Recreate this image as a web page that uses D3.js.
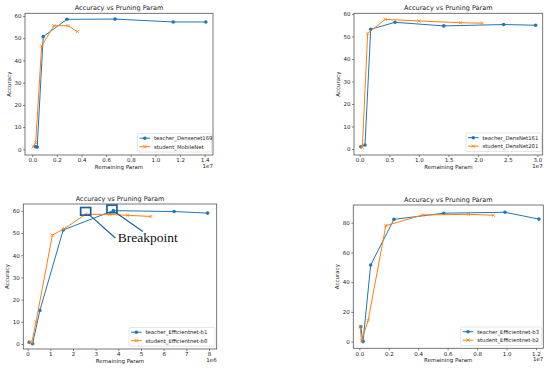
<!DOCTYPE html>
<html>
<head>
<meta charset="utf-8">
<script src="https://cdn.jsdelivr.net/npm/d3@7"></script>
<style>
  body { margin: 0; background: #fff; }
  svg { display: block; font-family: "DejaVu Sans", sans-serif; }
</style>
</head>
<body>
<svg id="chart" width="550" height="371"></svg>
<script>
// top left: Densenet169 / MobileNet (x in params)
const densenet169X = [250000, 400000, 890000, 2820000, 6720000, 11450000, 14100000]
const densenet169Y = [1.2, 1.0, 50.7, 58.5, 58.6, 57.3, 57.3]
const mobilenetX = [80000, 280000, 760000, 1760000, 2900000, 3660000]
const mobilenetY = [1.2, 3.0, 46.5, 55.6, 55.6, 53.0]

// top right: DensNet161 / DensNet201
const densnet161X = [200000, 900000, 1860000, 5960000, 14200000, 24300000, 29700000]
const densnet161Y = [1.0, 1.8, 53.2, 56.3, 54.7, 55.3, 55.0]
const densnet201X = [300000, 450000, 1350000, 4300000, 10000000, 17000000, 20700000]
const densnet201Y = [1.0, 0.8, 51.4, 57.6, 56.9, 56.1, 55.9]

// bottom left: Efficientnet-b1 / b0
const effb1X = [70000, 220000, 540000, 1570000, 3780000, 6460000, 7940000]
const effb1Y = [0.8, 0.1, 15.1, 51.4, 60.1, 59.7, 59.0]
const effb0X = [100000, 180000, 370000, 1090000, 1620000, 2570000, 3630000, 4410000, 5430000]
const effb0Y = [1.0, 0.5, 10.0, 49.0, 52.0, 58.5, 58.4, 58.0, 57.5]

// bottom right: Efficientnet-b3 / b2
const effb3X = [100000, 250000, 770000, 2350000, 5730000, 9900000, 12200000]
const effb3Y = [10.0, 0.0, 51.5, 82.2, 86.4, 87.0, 82.4]
const effb2X = [50000, 150000, 600000, 1800000, 4300000, 7400000, 9100000]
const effb2Y = [10.0, 0.5, 14.3, 78.0, 85.2, 85.6, 85.0]

// tick labels
const ticks1X = [0, 2e6, 4e6, 6e6, 8e6, 10e6, 12e6, 14e6]
const ticks2X = [0, 5e6, 10e6, 15e6, 20e6, 25e6, 30e6]
const ticks3X = [0, 1e6, 2e6, 3e6, 4e6, 5e6, 6e6, 7e6, 8e6]
const ticks4X = [0, 2e6, 4e6, 6e6, 8e6, 10e6, 12e6]
const ticks60 = [0, 10, 20, 30, 40, 50, 60]
const ticks80 = [0, 20, 40, 60, 80]

// breakpoint annotation (data coords of bottom-left panel)
const breakpointX = [2.56e6, 3.72e6]
const breakpointY = [59.8, 60.9]

const BLUE = '#1f77b4'
const ORANGE = '#ff7f0e'
const ANNOT = '#1b5e9e'

const svg = d3.select('#chart')

const zip = (xs, ys) => xs.map((x, i) => ({x, y: ys[i]}))

function drawPanel(opts) {
  const {box, xDomain, yDomain, xTicks, yTicks, exp, teacher, student, names, legend} = opts
  const g = svg.append('g')
  const x = d3.scaleLinear().domain(xDomain).range([box.left, box.right])
  const y = d3.scaleLinear().domain(yDomain).range([box.bottom, box.top])

  const xAxis = g.append('g')
    .attr('transform', `translate(0, ${box.bottom})`)
    .call(d3.axisBottom(x).tickValues(xTicks).tickSize(2).tickPadding(1.5)
      .tickFormat((d) => exp === 7 ? (d / 1e7).toFixed(1) : String(d / 1e6)))
  const yAxis = g.append('g')
    .attr('transform', `translate(${box.left}, 0)`)
    .call(d3.axisLeft(y).tickValues(yTicks).tickSize(2).tickPadding(1.5))
  ;[xAxis, yAxis].forEach((a) => {
    a.select('.domain').remove()
    a.selectAll('line').attr('stroke', '#333').attr('stroke-width', 0.6)
    a.selectAll('text').attr('font-size', 5.5).attr('fill', '#222')
      .attr('font-family', '"DejaVu Sans", sans-serif')
  })

  g.append('rect')
    .attr('x', box.left).attr('y', box.top)
    .attr('width', box.right - box.left).attr('height', box.bottom - box.top)
    .attr('fill', 'none').attr('stroke', '#555').attr('stroke-width', 0.8)

  g.append('text')
    .attr('x', (box.left + box.right) / 2).attr('y', box.top - 3.5)
    .attr('text-anchor', 'middle').attr('font-size', 6.5).attr('fill', '#222')
    .text('Accuracy vs Pruning Param')

  g.append('text')
    .attr('x', (box.left + box.right) / 2).attr('y', box.bottom + 13.5)
    .attr('text-anchor', 'middle').attr('font-size', 5.5).attr('fill', '#222')
    .text('Remaining Param')

  g.append('text')
    .attr('x', box.right).attr('y', box.bottom + 12.5)
    .attr('text-anchor', 'end').attr('font-size', 5.5).attr('fill', '#222')
    .text('1e' + exp)

  g.append('text')
    .attr('transform', `translate(${box.left - 14}, ${(box.top + box.bottom) / 2}) rotate(-90)`)
    .attr('text-anchor', 'middle').attr('font-size', 5.5).attr('fill', '#222')
    .text('Accuracy')

  const line = d3.line().x((d) => x(d.x)).y((d) => y(d.y))

  const series = [
    {data: teacher, color: BLUE, marker: 'o'},
    {data: student, color: ORANGE, marker: 'x'},
  ]
  series.forEach((s) => {
    g.append('path').datum(s.data)
      .attr('d', line).attr('fill', 'none')
      .attr('stroke', s.color).attr('stroke-width', 1)
    drawMarkers(g, s.data.map((d) => [x(d.x), y(d.y)]), s.color, s.marker)
  })

  // legend
  const lg = g.append('g')
  lg.append('rect')
    .attr('x', legend.x).attr('y', legend.y)
    .attr('width', legend.w).attr('height', 18.5)
    .attr('rx', 1).attr('fill', '#fff').attr('fill-opacity', 0.8)
    .attr('stroke', '#ccc').attr('stroke-width', 0.5)
  series.forEach((s, i) => {
    const cy = legend.y + 4.7 + i * 8.5
    const lx = legend.x + 2
    lg.append('line')
      .attr('x1', lx).attr('x2', lx + 10.6).attr('y1', cy).attr('y2', cy)
      .attr('stroke', s.color).attr('stroke-width', 1)
    drawMarkers(lg, [[lx + 5.3, cy]], s.color, s.marker)
    lg.append('text')
      .attr('x', lx + 14.5).attr('y', cy).attr('dy', '0.35em')
      .attr('font-size', 5.3).attr('fill', '#222')
      .text(names[i])
  })

  return {x, y, g}
}

function drawMarkers(g, pts, color, marker) {
  if (marker === 'o') {
    g.selectAll(null).data(pts).enter().append('circle')
      .attr('cx', (d) => d[0]).attr('cy', (d) => d[1]).attr('r', 1.8)
      .attr('fill', color)
  } else {
    const r = 1.6
    g.selectAll(null).data(pts).enter().append('path')
      .attr('d', (d) => `M${d[0] - r},${d[1] - r}L${d[0] + r},${d[1] + r}M${d[0] - r},${d[1] + r}L${d[0] + r},${d[1] - r}`)
      .attr('stroke', color).attr('stroke-width', 0.8).attr('fill', 'none')
  }
}

drawPanel({
  box: {left: 25, right: 213, top: 13.3, bottom: 155},
  xDomain: [-0.059e7, 1.468e7], yDomain: [-2.55, 61.2],
  xTicks: ticks1X, yTicks: ticks60, exp: 7,
  teacher: zip(densenet169X, densenet169Y), student: zip(mobilenetX, mobilenetY),
  names: ['teacher_Densenet169', 'student_MobileNet'],
  legend: {x: 137.5, y: 133.5, w: 74},
})

drawPanel({
  box: {left: 354, right: 542.7, top: 13.3, bottom: 155},
  xDomain: [-0.096e7, 3.09e7], yDomain: [-2.67, 60.3],
  xTicks: ticks2X, yTicks: ticks60, exp: 7,
  teacher: zip(densnet161X, densnet161Y), student: zip(densnet201X, densnet201Y),
  names: ['teacher_DensNet161', 'student_DensNet201'],
  legend: {x: 466, y: 133, w: 75.5},
})

const p3 = drawPanel({
  box: {left: 23.3, right: 216.7, top: 204, bottom: 349},
  xDomain: [-0.19e6, 8.34e6], yDomain: [-2.27, 63.1],
  xTicks: ticks3X, yTicks: ticks60, exp: 6,
  teacher: zip(effb1X, effb1Y), student: zip(effb0X, effb0Y),
  names: ['teacher_Efficientnet-b1', 'student_Efficientnet-b0'],
  legend: {x: 129, y: 327.5, w: 86},
})

drawPanel({
  box: {left: 353.3, right: 543.3, top: 205, bottom: 348.3},
  xDomain: [-0.041e7, 1.25e7], yDomain: [-4.5, 91.9],
  xTicks: ticks4X, yTicks: ticks80, exp: 7,
  teacher: zip(effb3X, effb3Y), student: zip(effb2X, effb2Y),
  names: ['teacher_Efficientnet-b3', 'student_Efficientnet-b2'],
  legend: {x: 460.7, y: 327, w: 81},
})

// breakpoint boxes + callout
const ann = p3.g.append('g')
const bp = breakpointX.map((bx, i) => [p3.x(bx), p3.y(breakpointY[i])])
const labelPos = [p3.x(3.98e6), p3.y(46)]
ann.selectAll('rect').data(bp).enter().append('rect')
  .attr('x', (d) => d[0] - 5).attr('y', (d) => d[1] - 3.8)
  .attr('width', 10).attr('height', 7.6)
  .attr('fill', 'none').attr('stroke', ANNOT).attr('stroke-width', 1.7)
ann.selectAll('line').data(bp).enter().append('line')
  .attr('x1', (d) => d[0] + 4).attr('y1', (d) => d[1] + 3.8)
  .attr('x2', (d, i) => i === 0 ? labelPos[0] - 2.5 : labelPos[0] + 25)
  .attr('y2', (d, i) => i === 0 ? labelPos[1] - 4 : labelPos[1] - 10.5)
  .attr('stroke', ANNOT).attr('stroke-width', 1.2)
ann.append('text')
  .attr('x', labelPos[0]).attr('y', labelPos[1])
  .attr('font-family', '"Liberation Serif", "DejaVu Serif", serif')
  .attr('font-size', 13.5).attr('fill', '#111')
  .text('Breakpoint')
</script>
</body>
</html>
